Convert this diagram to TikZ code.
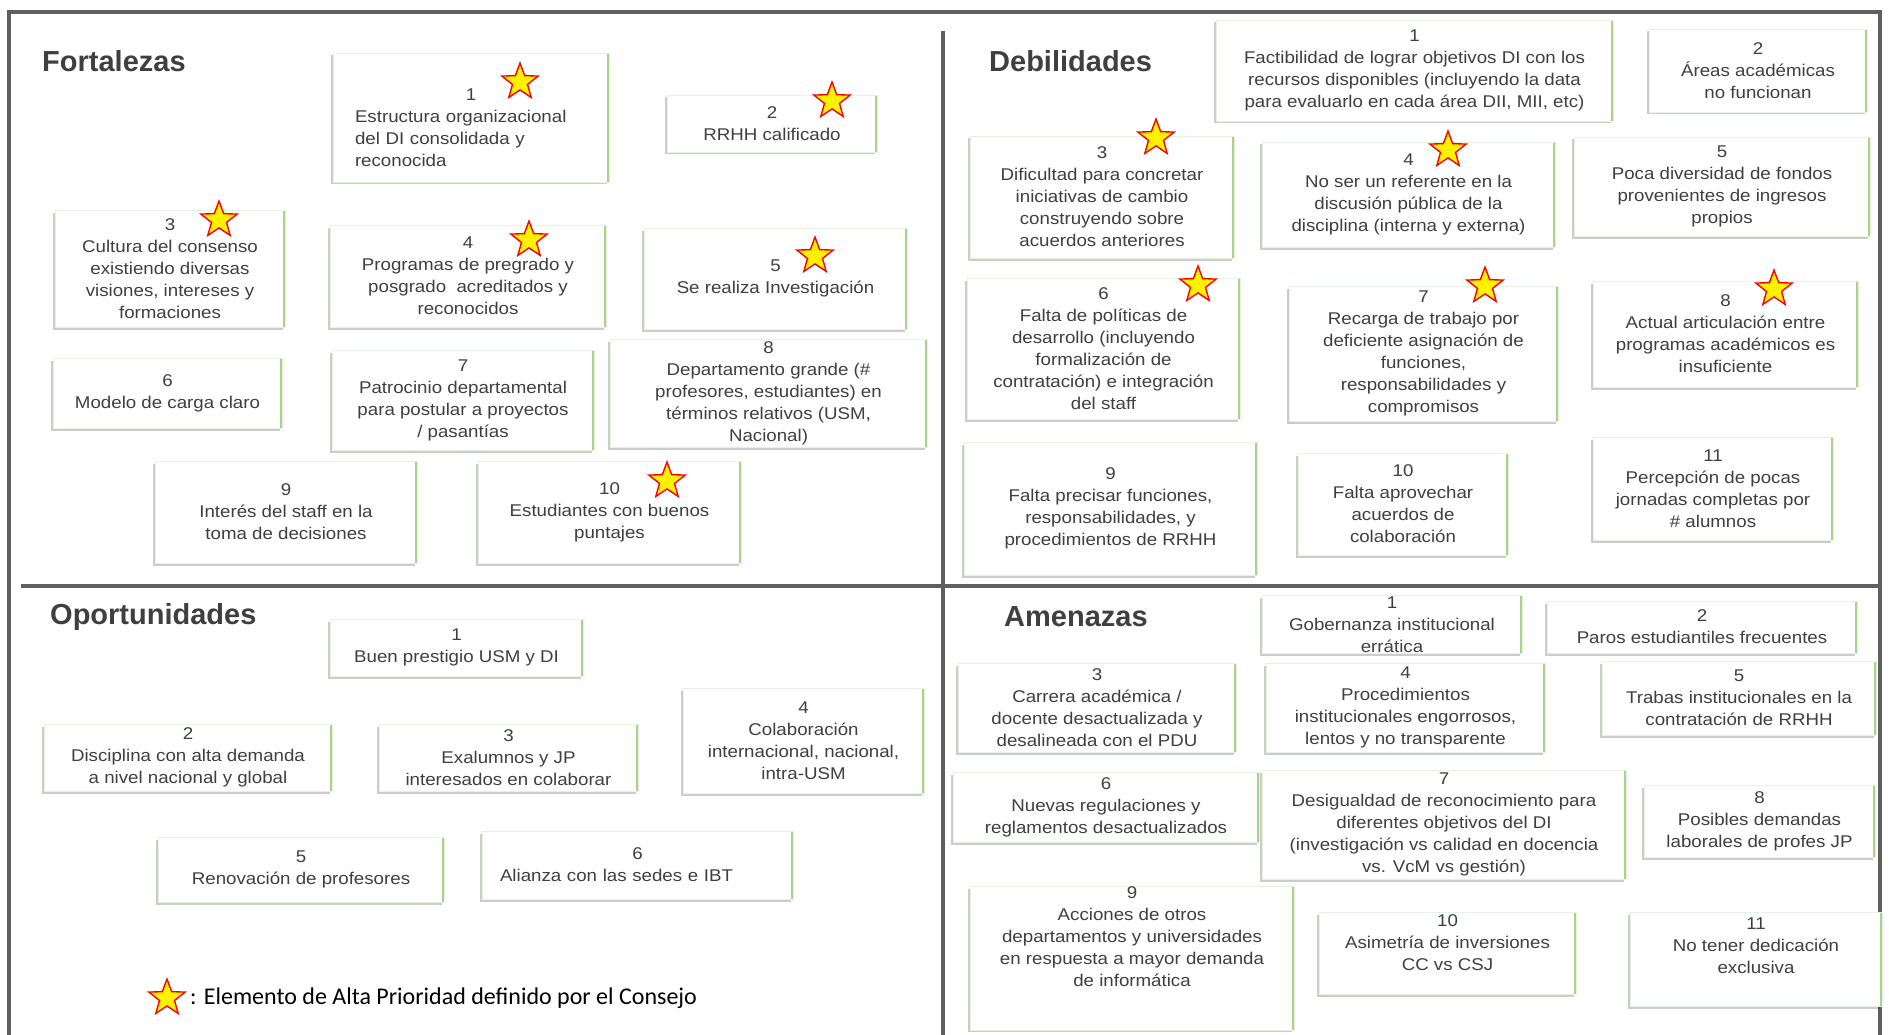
\documentclass[tikz,border=0pt]{standalone}
\usepackage{fontspec}
\setmainfont{Liberation Sans}[FakeStretch=1.1]
\newfontfamily\titulofont{Liberation Sans}
\newfontfamily\leyendafont{Carlito}
\usetikzlibrary{shapes.geometric,shadows}

\definecolor{texto}{HTML}{3F3F3F}
\definecolor{verde}{HTML}{A9D38C}
\definecolor{lineagris}{HTML}{5F5F5F}

\tikzstyle{caja}=[rectangle,draw=verde!28,line width=0.7pt,fill=white,text=texto,align=center,inner ysep=1pt,
    font=\fontsize{17}{22}\selectfont,
    drop shadow={shadow xshift=-2.5pt,shadow yshift=-2.5pt,fill=black,opacity=0.2},
    path picture={\draw[verde,line width=5pt] (path picture bounding box.north east) -- (path picture bounding box.south east);}]
\tikzstyle{titulo}=[anchor=west,inner sep=0pt,text=texto,font=\titulofont\fontsize{29}{34}\selectfont\bfseries]
\tikzstyle{estrella}=[star,star points=5,star point ratio=2.4,draw=red,fill=yellow,line width=1.4pt,minimum size=38pt,inner sep=0pt]
\tikzstyle{marco}=[line width=3.5pt,lineagris]

\begin{document}
\begin{tikzpicture}[x=1pt,y=-1pt]
            \useasboundingbox (0,0) rectangle (1889,1035);
            \draw[marco] (9,1035) -- (9,12) -- (1880,12) -- (1880,1035);
            \draw[marco] (21,586) -- (1880,586);
            \draw[marco] (943,31) -- (943,1035);

            \node (fortalezas) at (42,61) [titulo] {Fortalezas};
            \node (debilidades) at (989,61) [titulo] {Debilidades};
            \node (oportunidades) at (50,617) [titulo] {Oportunidades};
            \node (amenazas) at (1004,617) [titulo] {Amenazas};

            \node (f1) at (471,117.5) [caja,align=left,text width=232pt,minimum width=276pt,minimum height=129pt] {\makebox[\linewidth]{\rule{0pt}{33pt}1}\\Estructura organizacional\\del DI consolidada y\\reconocida};
            \node (f2) at (772,123.5) [caja,minimum width=210pt,minimum height=57pt] {2\\RRHH calificado};
            \node (f3) at (170,268.5) [caja,minimum width=230pt,minimum height=117pt] {3\\Cultura del consenso\\existiendo diversas\\visiones, intereses y\\formaciones};
            \node (f4) at (468,276) [caja,minimum width=276pt,minimum height=102pt] {4\\Programas de pregrado y\\posgrado\ \ acreditados y\\reconocidos};
            \node (f5) at (775.5,278.5) [caja,minimum width=263pt,minimum height=101pt] {5\\Se realiza Investigación};
            \node (f6) at (167.5,393) [caja,minimum width=229pt,minimum height=70pt] {6\\Modelo de carga claro};
            \node (f7) at (463,400) [caja,minimum width=262pt,minimum height=100pt] {7\\Patrocinio departamental\\para postular a proyectos\\/ pasantías};
            \node (f8) at (768.5,393) [caja,minimum width=317pt,minimum height=108pt] {8\\Departamento grande (\#\\profesores, estudiantes) en\\términos relativos (USM,\\Nacional)};
            \node (f9) at (286,512) [caja,minimum width=262pt,minimum height=102pt] {9\\Interés del staff en la\\toma de decisiones};
            \node (f10) at (609.5,512) [caja,minimum width=263pt,minimum height=102pt] {10\\Estudiantes con buenos\\puntajes};

            \node (d1) at (1414.5,70.5) [caja,minimum width=397pt,minimum height=101pt] {1\\Factibilidad de lograr objetivos DI con los\\recursos disponibles (incluyendo la data\\para evaluarlo en cada área DII, MII, etc)};
            \node (d2) at (1758,70.5) [caja,minimum width=218pt,minimum height=83pt] {2\\Áreas académicas\\no funcionan};
            \node (d3) at (1102,197) [caja,minimum width=264pt,minimum height=122pt] {3\\Dificultad para concretar\\iniciativas de cambio\\construyendo sobre\\acuerdos anteriores};
            \node (d4) at (1408.5,194.5) [caja,minimum width=293pt,minimum height=105pt] {4\\No ser un referente en la\\discusión pública de la\\disciplina (interna y externa)};
            \node (d5) at (1722,186.5) [caja,minimum width=296pt,minimum height=99pt] {5\\Poca diversidad de fondos\\provenientes de ingresos\\propios};
            \node (d6) at (1103.5,348.5) [caja,minimum width=273pt,minimum height=141pt] {6\\Falta de políticas de\\desarrollo (incluyendo\\formalización de\\contratación) e integración\\del staff};
            \node (d7) at (1423.5,353.5) [caja,minimum width=269pt,minimum height=135pt] {7\\Recarga de trabajo por\\deficiente asignación de\\funciones,\\responsabilidades y\\compromisos};
            \node (d8) at (1725.5,334) [caja,minimum width=265pt,minimum height=106pt] {8\\Actual articulación entre\\programas académicos es\\insuficiente};
            \node (d9) at (1110.5,508.5) [caja,minimum width=293pt,minimum height=133pt] {9\\Falta precisar funciones,\\responsabilidades, y\\procedimientos de RRHH};
            \node (d10) at (1403,504) [caja,minimum width=210pt,minimum height=102pt] {10\\Falta aprovechar\\acuerdos de\\colaboración};
            \node (d11) at (1713,488.5) [caja,minimum width=240pt,minimum height=103pt] {11\\Percepción de pocas\\jornadas completas por\\\# alumnos};

            \node (o1) at (456.5,647.5) [caja,minimum width=253pt,minimum height=57pt] {1\\Buen prestigio USM y DI};
            \node (o2) at (188,757.5) [caja,minimum width=288pt,minimum height=67pt] {2\\Disciplina con alta demanda\\a nivel nacional y global};
            \node (o3) at (508.5,757.5) [caja,minimum width=259pt,minimum height=67pt] {3\\Exalumnos y JP\\interesados en colaborar};
            \node (o4) at (803.5,740.5) [caja,minimum width=241pt,minimum height=105pt] {4\\Colaboración\\internacional, nacional,\\intra-USM};
            \node (o5) at (301,869.5) [caja,minimum width=286pt,minimum height=65pt] {5\\Renovación de profesores};
            \node (o6) at (637.5,865) [caja,align=left,text width=275pt,minimum width=311pt,minimum height=68pt] {\makebox[\linewidth]{6}\\Alianza con las sedes e IBT};

            \node (a1) at (1392,624.5) [caja,minimum width=260pt,minimum height=57pt] {1\\Gobernanza institucional\\errática};
            \node (a2) at (1702,627) [caja,minimum width=310pt,minimum height=52pt] {2\\Paros estudiantiles frecuentes};
            \node (a3) at (1097,707.5) [caja,minimum width=278pt,minimum height=89pt] {3\\Carrera académica /\\docente desactualizada y\\desalineada con el PDU};
            \node (a4) at (1405.5,707.5) [caja,minimum width=279pt,minimum height=89pt] {4\\Procedimientos\\institucionales engorrosos,\\lentos y no transparente};
            \node (a5) at (1739,698) [caja,minimum width=274pt,minimum height=74pt] {5\\Trabas institucionales en la\\contratación de RRHH};
            \node (a6) at (1106,807) [caja,minimum width=306pt,minimum height=70pt] {6\\Nuevas regulaciones y\\reglamentos desactualizados};
            \node (a7) at (1444,824.5) [caja,minimum width=364pt,minimum height=109pt] {7\\Desigualdad de reconocimiento para\\diferentes objetivos del DI\\(investigación vs calidad en docencia\\vs. VcM vs gestión)};
            \node (a8) at (1759.5,821) [caja,minimum width=231pt,minimum height=72pt] {8\\Posibles demandas\\laborales de profes JP};
            \node (a9) at (1132,958) [caja,minimum width=324pt,minimum height=118pt] {9\\Acciones de otros\\departamentos y universidades\\en respuesta a mayor demanda\\de informática\rule[-42pt]{0pt}{1pt}};
            \node (a10) at (1447.5,953) [caja,minimum width=257pt,minimum height=82pt] {10\\Asimetría de inversiones\\CC vs CSJ\rule[-21pt]{0pt}{1pt}};
            \node (a11) at (1756,959) [caja,minimum width=252pt,minimum height=94pt] {11\\No tener dedicación\\exclusiva\rule[-26pt]{0pt}{1pt}};

            \node (ef1) at (520,82) [estrella] {};
            \node (ef2) at (832,101) [estrella] {};
            \node (ef3) at (219,220) [estrella] {};
            \node (ef4) at (529,240) [estrella] {};
            \node (ef5) at (815,256) [estrella] {};
            \node (ef10) at (667,481) [estrella] {};
            \node (ed3) at (1156,138) [estrella] {};
            \node (ed4) at (1448,150) [estrella] {};
            \node (ed6) at (1198,285) [estrella] {};
            \node (ed7) at (1485,286) [estrella] {};
            \node (ed8) at (1774,289) [estrella] {};

            \node (eleyenda) at (167,998) [estrella] {};
            \node (leyenda) at (188,998) [anchor=west,inner sep=2pt,font=\leyendafont\fontsize{24}{28}\selectfont] {: Elemento de Alta Prioridad definido por el Consejo};
\end{tikzpicture}
\end{document}
